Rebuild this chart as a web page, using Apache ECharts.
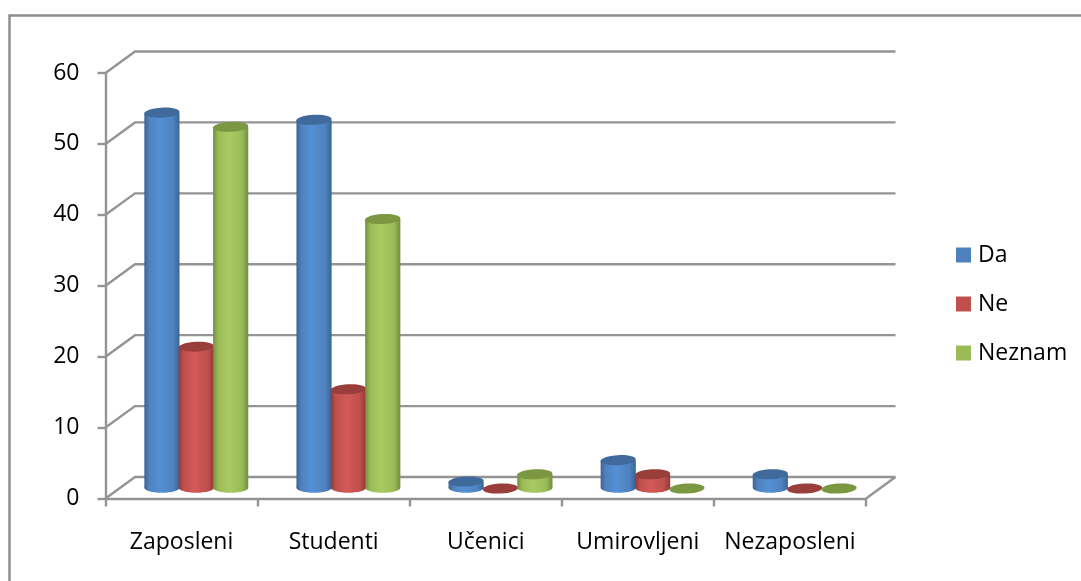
<!DOCTYPE html>
<html><head><meta charset="utf-8">
<style>html,body{margin:0;padding:0;background:#fff}#c{width:1081px;height:581px}</style>
<script src="https://cdn.jsdelivr.net/npm/echarts@6/dist/echarts.min.js"></script>
</head><body><div id="c"></div>
<script>
const categories = ['Zaposleni','Studenti','Učenici','Umirovljeni','Nezaposleni'];
const seriesNames = ['Da','Ne','Neznam'];
const da = [53,52,1,4,2];
const ne = [20,14,0,2,0];
const neznam = [51,38,2,0,0];
const yTicks = [0,10,20,30,40,50,60];

const FONT = '"Open Sans"';
const GRID = '#949494';
const LW = 2.4;
const DX = 29.5, DY = -21.5;     // depth of the chart floor
const palette = [
  {base:'#4F81BD', edge:'#3a6597', light:'#5490d6', top:'#3f6a9b'},
  {base:'#C0504D', edge:'#8f3937', light:'#d25a57', top:'#9a3e3c'},
  {base:'#9BBB59', edge:'#728d3d', light:'#a8ca61', top:'#7b9741'}
];

function barRenderer(idx){
  const c = palette[idx];
  return function(params, api){
    const cat = api.value(0), val = api.value(1);
    const band = api.size([1,0])[0];
    const w = band * 0.226, rx = w/2 + 0.4, ry = 5;
    const p = api.coord([cat, val]), p0 = api.coord([cat, 0]);
    const cx = p[0] + DX/2 + (idx-1)*w;
    const yTop = p[1] + DY/2 + 0.8, yBase = p0[1] + DY/2;
    const grad = {type:'linear',x:0,y:0,x2:1,y2:0,colorStops:[
      {offset:0,color:c.edge},{offset:0.14,color:c.base},{offset:0.45,color:c.light},
      {offset:0.82,color:c.base},{offset:1,color:c.edge}]};
    const children = [];
    if (val > 0){
      children.push({type:'ellipse',shape:{cx:cx,cy:yBase,rx:rx,ry:ry},style:{fill:grad}});
      children.push({type:'rect',shape:{x:cx-rx,y:yTop,width:rx*2,height:yBase-yTop},style:{fill:grad}});
    }
    children.push({type:'ellipse',shape:{cx:cx,cy:yTop,rx:rx,ry:ry},rotation:0.05,originX:cx,originY:yTop,style:{fill:c.top}});
    return {type:'group',children:children};
  };
}

function wallRenderer(params, api){
  const v = api.value(0);
  const band = api.size([1,0])[0];
  const p = api.coord([0, v]);
  const ax = p[0] - band/2, bx = ax + band*categories.length, y = p[1];
  const lineStyle = {stroke:GRID, lineWidth:LW, fill:null};
  const children = [
    {type:'polyline',shape:{points:[[ax,y],[ax+DX,y+DY],[bx+DX,y+DY]]},style:lineStyle}
  ];
  if (v === 0) children.push({type:'line',shape:{x1:bx,y1:y,x2:bx+DX,y2:y+DY},style:lineStyle});
  return {type:'group',children:children};
}

const dataSets = [da, ne, neznam];
const series = [{
  type:'custom', name:'wall', coordinateSystem:'cartesian2d', z:1, silent:true,
  renderItem:wallRenderer, encode:{y:0}, data:yTicks.map(v=>[v])
}].concat(seriesNames.map((n,i)=>({
  type:'custom', name:n, coordinateSystem:'cartesian2d', z:2+i,
  itemStyle:{color:palette[i].base},
  renderItem:barRenderer(i), encode:{x:0,y:1},
  data:dataSets[i].map((v,k)=>[k,v])
})));

const chart = echarts.init(document.getElementById('c'), null, {renderer:'canvas'});
chart.setOption({
  animation:false,
  backgroundColor:'#fff',
  textStyle:{fontFamily:FONT},
  graphic:[{type:'polyline',z:0,silent:true,
    shape:{points:[[9.5,581],[9.5,15.5],[1081,15.5]]},
    style:{stroke:'#8c8c8c',lineWidth:2.4,fill:null}}],
  grid:{left:105.5,top:73,width:760.5,height:425.5,containLabel:false},
  legend:{
    orient:'vertical',left:951,top:238.5,itemWidth:15,itemHeight:15,itemGap:26,icon:'rect',
    data:seriesNames,
    textStyle:{fontFamily:FONT,fontSize:23,color:'#000',padding:[0,0,0,2]}
  },
  xAxis:{type:'category',data:categories,boundaryGap:true,
    axisLine:{show:true,onZero:true,lineStyle:{color:GRID,width:LW}},
    axisTick:{show:true,alignWithLabel:false,length:8,lineStyle:{color:GRID,width:LW}},
    axisLabel:{color:'#000',fontFamily:FONT,fontSize:23,margin:32,interval:0},
    splitLine:{show:false}},
  yAxis:{type:'value',min:0,max:60,interval:10,
    axisLine:{show:true,lineStyle:{color:GRID,width:LW}},
    axisTick:{show:true,length:8,lineStyle:{color:GRID,width:LW}},
    axisLabel:{color:'#000',fontFamily:FONT,fontSize:23,margin:26,padding:[6,0,0,0]},
    splitLine:{show:false}},
  series:series
});
</script></body></html>
